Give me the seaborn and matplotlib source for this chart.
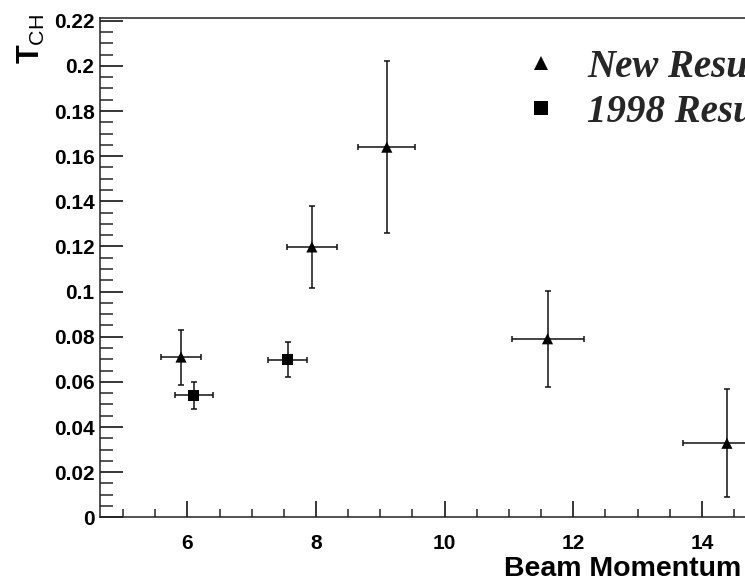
import numpy as np
import pandas as pd
import matplotlib
matplotlib.use("Agg")
import matplotlib.pyplot as plt
from matplotlib.ticker import FixedLocator, MultipleLocator, FuncFormatter
import seaborn as sns

# Measurements: T_CH versus beam momentum
new_x = [5.90, 7.935, 9.10, 11.60, 14.39]
new_y = [0.0710, 0.1198, 0.1640, 0.0791, 0.0328]
new_xerr = [0.305, 0.39, 0.446, 0.56, 0.69]
new_yerr = [0.0122, 0.0182, 0.0380, 0.0212, 0.0239]

old_x = [6.10, 7.56]
old_y = [0.0540, 0.0698]
old_xerr = [0.30, 0.306]
old_yerr = [0.0061, 0.0078]

series_names = ["New Results", "1998 Results"]
y_ticks = [0, 0.02, 0.04, 0.06, 0.08, 0.1, 0.12, 0.14, 0.16, 0.18, 0.2, 0.22]
x_ticks = [6, 8, 10, 12, 14]

df = pd.DataFrame({
    "momentum": new_x + old_x,
    "tch": new_y + old_y,
    "series": [series_names[0]] * len(new_x) + [series_names[1]] * len(old_x),
})

sns.set_theme(style="ticks")
plt.rcParams["font.family"] = ["Liberation Sans", "DejaVu Sans"]
plt.rcParams["mathtext.fontset"] = "custom"
plt.rcParams["mathtext.rm"] = "Liberation Sans"
plt.rcParams["mathtext.bf"] = "Liberation Sans:bold"

fig = plt.figure(figsize=(7.45, 5.8), dpi=100)
W, H = 745.0, 580.0
x_lo, x_hi = 4.64, 15.5
px_per_unit = 64.3
ax_w = (x_hi - x_lo) * px_per_unit
ax = fig.add_axes([100 / W, 62.7 / H, ax_w / W, 499.0 / H])

ink = "black"
for xs, ys, xe, ye in [(new_x, new_y, new_xerr, new_yerr), (old_x, old_y, old_xerr, old_yerr)]:
    ax.errorbar(xs, ys, xerr=xe, yerr=ye, fmt="none", ecolor="#111111",
                elinewidth=1.1, capsize=2.4, capthick=1.1, zorder=2)

sns.scatterplot(data=df, x="momentum", y="tch", style="series",
                markers={series_names[0]: "^", series_names[1]: "s"},
                color=ink, s=64, linewidth=0, edgecolor=ink, ax=ax, zorder=3)

ax.set_xlim(x_lo, x_hi)
ax.set_ylim(0, 0.2211)
ax.yaxis.set_major_locator(FixedLocator(y_ticks))
ax.yaxis.set_minor_locator(MultipleLocator(0.005))
ax.xaxis.set_major_locator(FixedLocator(x_ticks))
ax.xaxis.set_minor_locator(MultipleLocator(0.5))
ax.yaxis.set_major_formatter(FuncFormatter(lambda v, p: "%g" % round(v, 4)))
ax.xaxis.set_major_formatter(FuncFormatter(lambda v, p: "%g" % v))

ax.tick_params(axis="y", which="major", direction="in", length=16.5, width=1.1,
               labelsize=15, pad=4, colors=ink)
ax.tick_params(axis="y", which="minor", direction="in", length=9.4, width=1.1)
ax.tick_params(axis="x", which="major", direction="in", length=11.5, width=1.1,
               labelsize=15, pad=12, colors=ink)
ax.tick_params(axis="x", which="minor", direction="in", length=5.8, width=1.1)
for lab in ax.get_xticklabels() + ax.get_yticklabels():
    lab.set_fontweight("bold")

for s in ax.spines.values():
    s.set_visible(True)
    s.set_linewidth(1.1)
    s.set_color("#222222")

ax.set_xlabel("")
ax.set_ylabel("")
fig.text(741 / W, (H - 576) / H, "Beam Momentum", ha="right", va="baseline",
         fontsize=20.5, fontweight="bold", color=ink)
fig.text(31 / W, (H - 14) / H, r"$\mathbf{T}_{\mathrm{CH}}$", rotation=90,
         ha="center", va="top", fontsize=22, color=ink)

sns.move_legend(ax, loc="upper left", bbox_to_anchor=(521.6 / W, (H - 49) / H),
                bbox_transform=fig.transFigure, title=None, frameon=False,
                borderpad=0, borderaxespad=0, handlelength=1.0,
                handletextpad=0.68, labelspacing=0.2, markerscale=1.3,
                prop={"family": "Liberation Serif", "weight": "bold",
                      "style": "italic", "size": 28})

fig.savefig("out.png", dpi=100)
